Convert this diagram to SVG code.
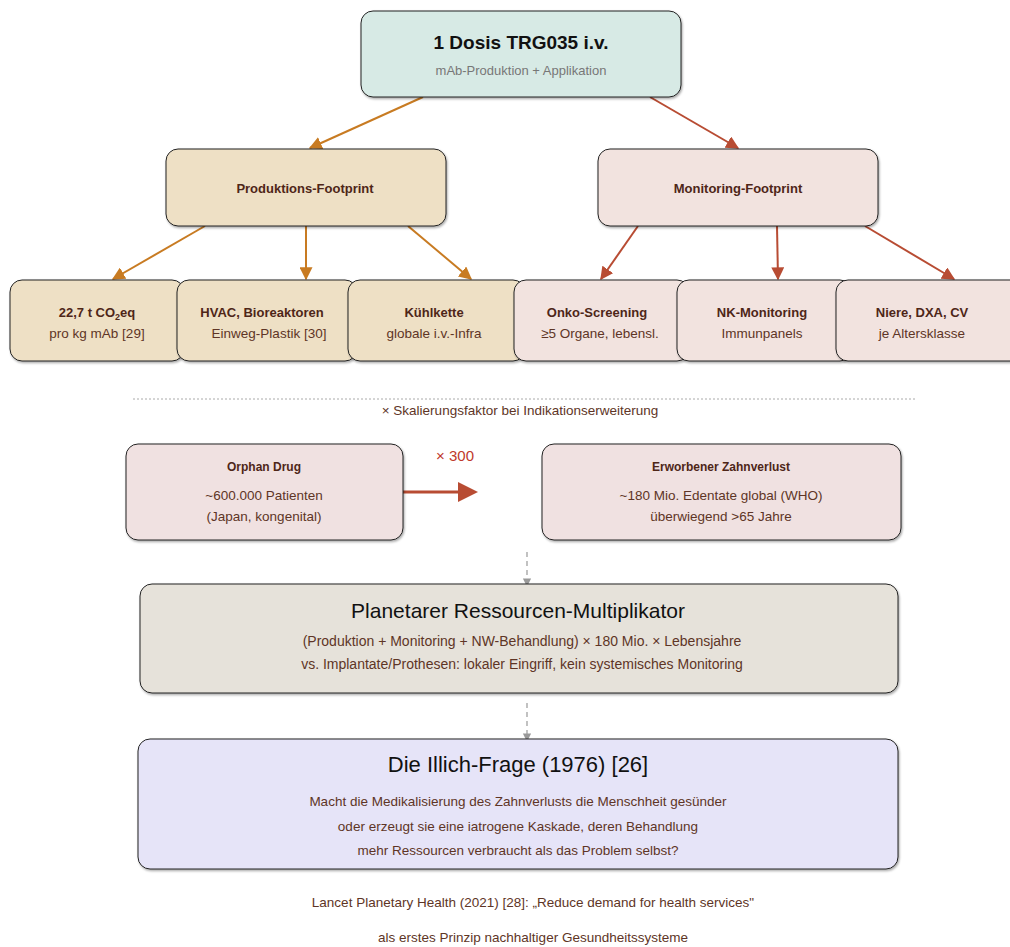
<svg xmlns="http://www.w3.org/2000/svg" width="1010" height="947" viewBox="0 0 1010 947">
<defs>
<filter id="sh" x="-5%" y="-5%" width="110%" height="115%">
<feDropShadow dx="1" dy="1.5" stdDeviation="0.8" flood-color="#000" flood-opacity="0.35"/>
</filter>
<marker id="ao" viewBox="0 0 10 10" refX="9" refY="5" markerWidth="6.5" markerHeight="6.5" orient="auto" markerUnits="strokeWidth"><path d="M0,0 L10,5 L0,10 z" fill="#c87b22"/></marker>
<marker id="ar" viewBox="0 0 10 10" refX="9" refY="5" markerWidth="6.5" markerHeight="6.5" orient="auto" markerUnits="strokeWidth"><path d="M0,0 L10,5 L0,10 z" fill="#b84c33"/></marker>
<marker id="ag" viewBox="0 0 10 10" refX="9" refY="5" markerWidth="7" markerHeight="7" orient="auto" markerUnits="strokeWidth"><path d="M0,0 L10,5 L0,10 z" fill="#999"/></marker>
</defs>
<style>
text{font-family:"Liberation Sans",Arial,sans-serif;text-anchor:middle}
.box{stroke:#222;stroke-width:1;filter:url(#sh)}
.teal{fill:#d7eae5}.sand{fill:#eee0c5}.rose{fill:#f2e3df}.pink{fill:#f0e1e1}.grey{fill:#e6e2da}.lav{fill:#e6e4f8}
.lb{font-size:13px;font-weight:bold;fill:#4e2618}
.ls{font-size:13.5px;fill:#5e3526}
.big{font-size:21px;fill:#111}
.eo{stroke:#c87b22;stroke-width:2;fill:none}
.er{stroke:#b84c33;stroke-width:2;fill:none}
.eg{stroke:#999;stroke-width:1.2;stroke-dasharray:5,4;fill:none}
</style>

<g id="connectors">
<line class="eo" x1="423" y1="97" x2="310" y2="148" marker-end="url(#ao)"/>
<line class="er" x1="650" y1="97" x2="738" y2="148" marker-end="url(#ar)"/>
<line class="eo" x1="205" y1="226" x2="113" y2="279" marker-end="url(#ao)"/>
<line class="eo" x1="306" y1="226" x2="306" y2="279" marker-end="url(#ao)"/>
<line class="eo" x1="408" y1="226" x2="471" y2="279" marker-end="url(#ao)"/>
<line class="er" x1="638" y1="226" x2="601" y2="279" marker-end="url(#ar)"/>
<line class="er" x1="777" y1="226" x2="778" y2="279" marker-end="url(#ar)"/>
<line class="er" x1="865" y1="226" x2="954" y2="279" marker-end="url(#ar)"/>
<line x1="133" y1="399" x2="915" y2="399" stroke="#aaa" stroke-width="1" stroke-dasharray="2,2"/>
<line x1="390" y1="492" x2="460" y2="492" stroke="#b84c33" stroke-width="3"/>
<path d="M458,482 L478,492 L458,502 z" fill="#b84c33"/>
<line class="eg" x1="527" y1="552" x2="527" y2="586" marker-end="url(#ag)"/>
<line class="eg" x1="527" y1="703" x2="527" y2="741" marker-end="url(#ag)"/>
</g>

<g id="n-dose">
<rect class="box teal" x="361" y="11" width="320" height="86" rx="12"/>
<text x="521" y="49" style="font-size:19px;font-weight:bold;fill:#111">1 Dosis TRG035 i.v.</text>
<text x="521" y="75" style="font-size:13px;fill:#777">mAb-Produktion + Applikation</text>
</g>

<g id="n-prod">
<rect class="box sand" x="166" y="149" width="280" height="77" rx="12"/>
<text class="lb" x="305" y="193">Produktions-Footprint</text>
</g>
<g id="n-mon">
<rect class="box rose" x="598" y="149" width="280" height="77" rx="12"/>
<text class="lb" x="738" y="193">Monitoring-Footprint</text>
</g>

<g id="n-co2">
<rect class="box sand" x="10" y="280" width="174" height="81" rx="12"/>
<text class="lb" x="97" y="317">22,7 t CO<tspan font-size="9" dy="3">2</tspan><tspan dy="-3">eq</tspan></text>
<text class="ls" x="97" y="338">pro kg mAb [29]</text>
</g>
<g id="n-hvac">
<rect class="box sand" x="177" y="280" width="180" height="81" rx="12"/>
<text class="lb" x="262" y="317">HVAC, Bioreaktoren</text>
<text class="ls" x="269" y="338">Einweg-Plastik [30]</text>
</g>
<g id="n-kuehl">
<rect class="box sand" x="348" y="280" width="177" height="81" rx="12"/>
<text class="lb" x="434" y="317">Kühlkette</text>
<text class="ls" x="434" y="338">globale i.v.-Infra</text>
</g>
<g id="n-onko">
<rect class="box rose" x="514" y="280" width="175" height="81" rx="12"/>
<text class="lb" x="597" y="317">Onko-Screening</text>
<text class="ls" x="600" y="338">≥5 Organe, lebensl.</text>
</g>
<g id="n-nk">
<rect class="box rose" x="677" y="280" width="175" height="81" rx="12"/>
<text class="lb" x="762" y="317">NK-Monitoring</text>
<text class="ls" x="762" y="338">Immunpanels</text>
</g>
<g id="n-niere">
<rect class="box rose" x="836" y="280" width="190" height="81" rx="12"/>
<text class="lb" x="922" y="317">Niere, DXA, CV</text>
<text class="ls" x="922" y="338">je Altersklasse</text>
</g>

<text class="ls" x="520" y="415" style="font-size:13.5px">× Skalierungsfaktor bei Indikationserweiterung</text>

<g id="n-orphan">
<rect class="box pink" x="126" y="444" width="277" height="96" rx="12"/>
<text class="lb" x="264" y="471" style="font-size:12px">Orphan Drug</text>
<text class="ls" x="264" y="500">~600.000 Patienten</text>
<text class="ls" x="264" y="521">(Japan, kongenital)</text>
</g>
<text x="455" y="461" style="font-size:15px;fill:#c0392b">× 300</text>
<g id="n-zahn">
<rect class="box pink" x="542" y="444" width="359" height="96" rx="12"/>
<text class="lb" x="721" y="471" style="font-size:12px">Erworbener Zahnverlust</text>
<text class="ls" x="721" y="500">~180 Mio. Edentate global (WHO)</text>
<text class="ls" x="721" y="521">überwiegend &gt;65 Jahre</text>
</g>

<g id="n-planet">
<rect class="box grey" x="140" y="584" width="758" height="109" rx="12"/>
<text class="big" x="518" y="618">Planetarer Ressourcen-Multiplikator</text>
<text class="ls" x="522" y="646" style="font-size:14px">(Produktion + Monitoring + NW-Behandlung) × 180 Mio. × Lebensjahre</text>
<text class="ls" x="522" y="669" style="font-size:14px">vs. Implantate/Prothesen: lokaler Eingriff, kein systemisches Monitoring</text>
</g>

<g id="n-illich">
<rect class="box lav" x="138" y="739" width="760" height="130" rx="12"/>
<text class="big" x="518" y="772" style="font-size:22px">Die Illich-Frage (1976) [26]</text>
<text class="ls" x="518" y="806">Macht die Medikalisierung des Zahnverlusts die Menschheit gesünder</text>
<text class="ls" x="518" y="831">oder erzeugt sie eine iatrogene Kaskade, deren Behandlung</text>
<text class="ls" x="518" y="855">mehr Ressourcen verbraucht als das Problem selbst?</text>
</g>

<text class="ls" x="533" y="907">Lancet Planetary Health (2021) [28]: „Reduce demand for health services"</text>
<text class="ls" x="533" y="942">als erstes Prinzip nachhaltiger Gesundheitssysteme</text>
</svg>
